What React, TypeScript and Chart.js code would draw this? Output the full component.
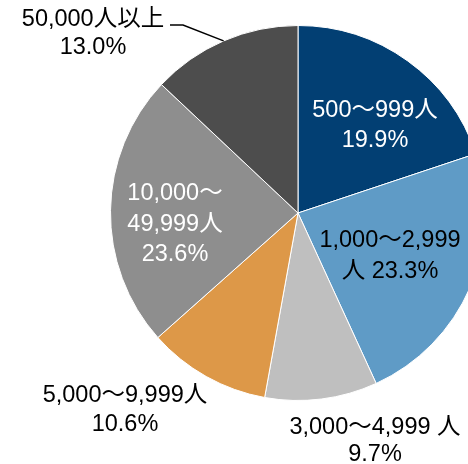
import React, { useEffect, useRef } from "react";
import { Chart, registerables } from "chart.js";

Chart.register(...registerables);

const categories = ["500～999人", "1,000～2,999人", "3,000～4,999人", "5,000～9,999人", "10,000～49,999人", "50,000人以上"];
const shares = [19.9, 23.3, 9.7, 10.6, 23.6, 13.0];
const sliceColors = ["#023f73", "#5f9bc6", "#bfbfbf", "#dd9848", "#8e8e8e", "#4d4d4d"];
const labelLines = [
  ["500～999人", "19.9%"],
  ["1,000～2,999", "人 23.3%"],
  ["3,000～4,999 人", "9.7%"],
  ["5,000～9,999人", "10.6%"],
  ["10,000～", "49,999人", "23.6%"],
  ["50,000人以上", "13.0%"],
];
const labelColors = ["#ffffff", "#000000", "#000000", "#000000", "#ffffff", "#000000"];
// label block centre offsets from the pie centre, and line heights
const labelOffsets = [
  [77, -89.5, 29.6],
  [92, 41, 31],
  [77, 226, 26.5],
  [-173, 195, 28.5],
  [-123, 9.5, 30.5],
  [-205, -181, 28],
];

const FONT = '"Liberation Sans", Arial, "Noto Sans CJK JP", sans-serif';
const FONT_SIZE = 23.5;

const labelPlugin = {
  id: "pieLabels",
  afterDraw(chart: any) {
    const ctx = chart.ctx;
    const meta = chart.getDatasetMeta(0);
    const arcs = meta.data;
    if (!arcs.length) return;
    const cx = arcs[0].x;
    const cy = arcs[0].y;
    ctx.save();
    ctx.font = `${FONT_SIZE}px ${FONT}`;
    ctx.textAlign = "center";
    ctx.textBaseline = "alphabetic";
    labelLines.forEach((lines, i) => {
      const [dx, dy, lh] = labelOffsets[i];
      ctx.fillStyle = labelColors[i];
      const n = lines.length;
      lines.forEach((t, j) => {
        const y = cy + dy + (j - (n - 1) / 2) * lh + 0.358 * FONT_SIZE;
        ctx.fillText(t, cx + dx, y);
      });
    });
    // leader line for the last slice
    const last = arcs[arcs.length - 1];
    const mid = (last.startAngle + last.endAngle) / 2;
    const ex = cx + Math.cos(mid) * last.outerRadius;
    const ey = cy + Math.sin(mid) * last.outerRadius;
    const [dx6, dy6, lh6] = labelOffsets[5];
    const ly = cy + dy6 - lh6 / 2 + 7;
    ctx.beginPath();
    ctx.strokeStyle = "#000000";
    ctx.lineWidth = 1.5;
    ctx.moveTo(170, ly);
    ctx.lineTo(183, ly);
    ctx.lineTo(ex, ey);
    ctx.stroke();
    ctx.restore();
  },
};

export default function App() {
  const ref = useRef<HTMLCanvasElement | null>(null);
  useEffect(() => {
    if (!ref.current) return;
    const chart = new Chart(ref.current, {
      type: "pie",
      data: {
        labels: categories,
        datasets: [
          {
            data: shares,
            backgroundColor: sliceColors,
            borderColor: "#ffffff",
            borderWidth: 1,
            hoverBorderWidth: 1,
            offset: 0,
            hoverOffset: 0,
          },
        ],
      },
      options: {
        responsive: false,
        animation: false,
        events: [],
        layout: { padding: { left: 110, top: 25, right: 114, bottom: 63 } },
        plugins: {
          legend: { display: false },
          tooltip: { enabled: false },
        },
      },
      plugins: [labelPlugin],
    });
    return () => chart.destroy();
  }, []);
  return (
    <div style={{ position: "fixed", left: 0, top: 0, width: 468, height: 464, overflow: "hidden", background: "#fff" }}>
      <canvas ref={ref} width={600} height={464} style={{ width: 600, height: 464, display: "block" }} />
    </div>
  );
}
